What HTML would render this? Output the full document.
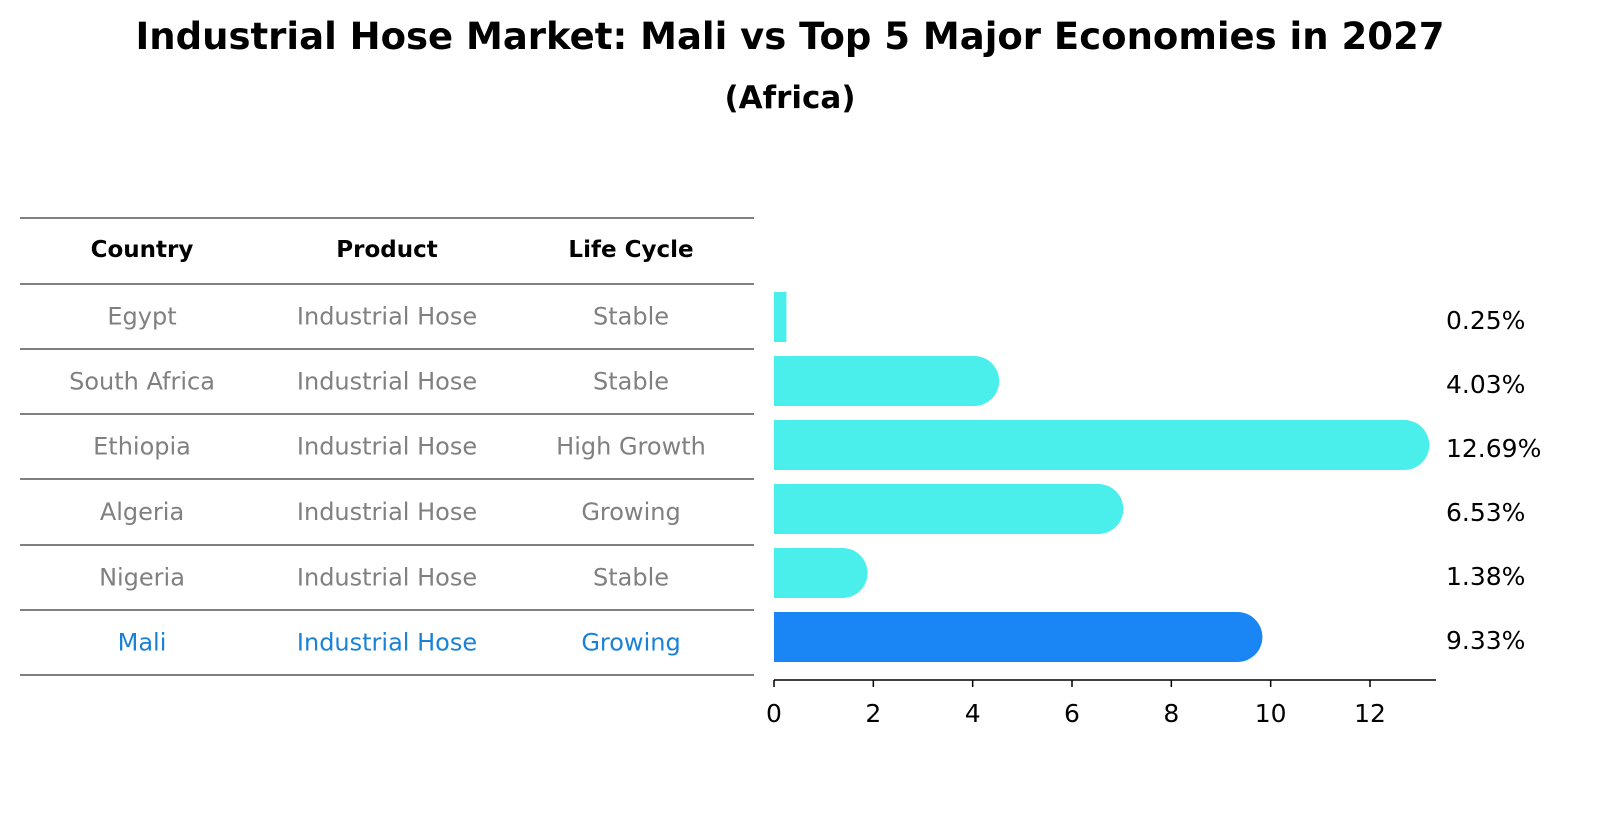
<!DOCTYPE html>
<html><head><meta charset="utf-8"><style>
html,body{margin:0;padding:0;background:#fff;overflow:hidden;width:1604px;height:823px;}
svg{display:block;}
</style></head><body>
<svg width="1604" height="823" xmlns="http://www.w3.org/2000/svg" font-family="DejaVu Sans, Liberation Sans, sans-serif">
<text x="790" y="49" text-anchor="middle" font-size="37" font-weight="bold">Industrial Hose Market: Mali vs Top 5 Major Economies in 2027</text>
<text x="790" y="108" text-anchor="middle" font-size="31" font-weight="bold">(Africa)</text>
<g id="table"></g>
<g id="bars"></g>
</svg>
<script>
const countries=["Egypt","South Africa","Ethiopia","Algeria","Nigeria","Mali"];
const products=["Industrial Hose","Industrial Hose","Industrial Hose","Industrial Hose","Industrial Hose","Industrial Hose"];
const lifeCycles=["Stable","Stable","High Growth","Growing","Stable","Growing"];
const values=[0.25,4.03,12.69,6.53,1.38,9.33];
const valueLabels=["0.25%","4.03%","12.69%","6.53%","1.38%","9.33%"];
const xTicks=[0,2,4,6,8,10,12];
const NS="http://www.w3.org/2000/svg";
function mk(tag,attrs,parent,txt){const e=document.createElementNS(NS,tag);for(const k in attrs)e.setAttribute(k,attrs[k]);if(txt!==undefined)e.textContent=txt;parent.appendChild(e);return e;}
const tbl=document.getElementById('table');
const lineYs=[218,284,349,414,479,545,610,675];
lineYs.forEach((y,i)=>{const l=mk('line',{x1:20,x2:754,y1:y,y2:y,stroke:'#000','stroke-width':1},tbl);

});
const colX=[142,387,631];
["Country","Product","Life Cycle"].forEach((h,i)=>{const t=mk('text',{x:colX[i],y:257,'text-anchor':'middle','font-size':23,'font-weight':'bold'},tbl,h);

});
countries.forEach((c,r)=>{const y=(lineYs[r+1]+lineYs[r+2])/2+8;const col=c==="Mali"?"#1a82d6":"#808080";
[c,products[r],lifeCycles[r]].forEach((v,i)=>{const t=mk('text',{x:colX[i],y:y,'text-anchor':'middle','font-size':24,fill:col},tbl,v);

});});
const bars=document.getElementById('bars');
const x0=774,scale=(1370-774)/12;
const xs=v=>x0+v*scale;
const ax=mk('line',{x1:774,x2:1436,y1:680,y2:680,stroke:'#000','stroke-width':1.5},bars);


xTicks.forEach(t=>{const tk=mk('line',{x1:xs(t),x2:xs(t),y1:680,y2:687,stroke:'#000','stroke-width':1.5},bars);


const tl=mk('text',{x:xs(t),y:722,'text-anchor':'middle','font-size':25},bars,String(t));

});
const h=50,r=25;
values.forEach((v,i)=>{const cy=317+i*64;const col=countries[i]==="Mali"?"#1a86f5":"#4aeeea";const w=xs(v)-x0;
let d;
if(w<r){d=`M${x0},${cy-h/2}h${w}v${h}h${-w}z`;}
else{d=`M${x0},${cy-h/2}H${x0+w}A${r},${r} 0 0 1 ${x0+w},${cy+h/2}H${x0}Z`;}
const p=mk('path',{d:d,fill:col},bars);


const lt=mk('text',{x:1446,y:cy+12,'font-size':25},bars,valueLabels[i]);

});
</script>
</body></html>
